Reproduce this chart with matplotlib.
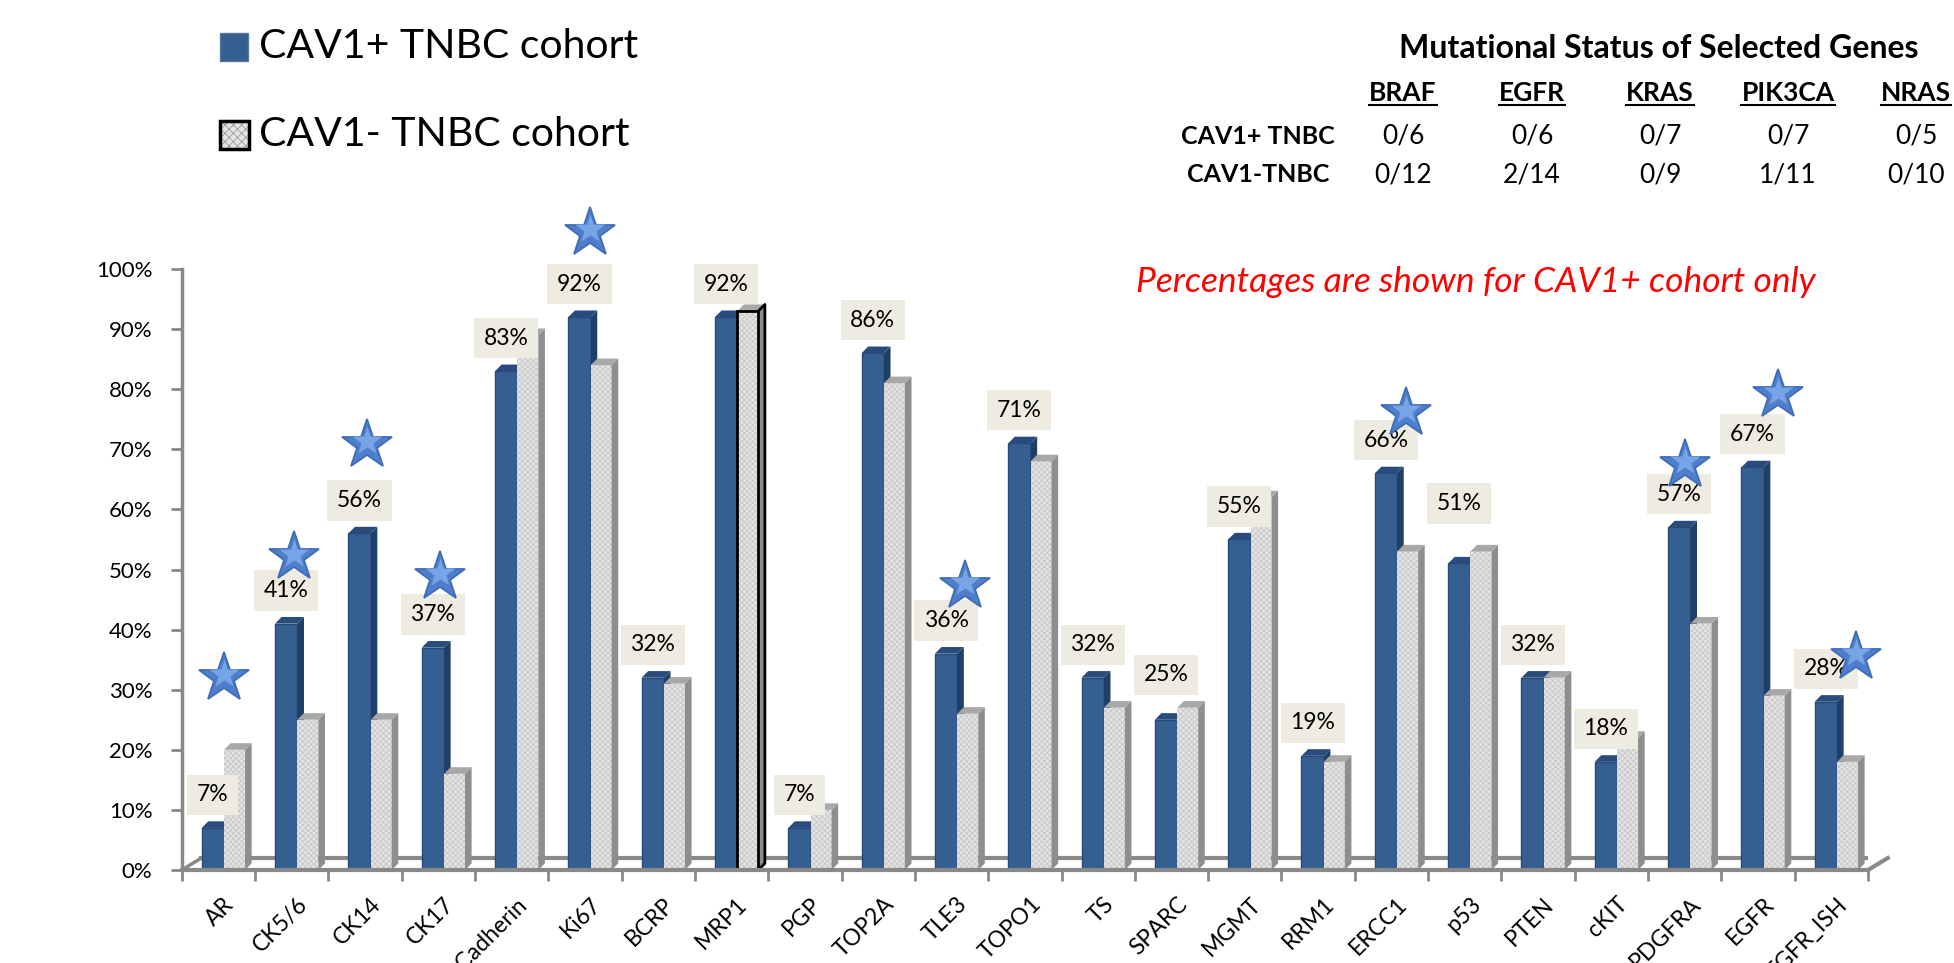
import matplotlib
matplotlib.use("Agg")
import matplotlib.pyplot as plt
from matplotlib.patches import Rectangle
from matplotlib.lines import Line2D
import numpy as np

plt.rcParams['font.family'] = ['Lato', 'DejaVu Sans']
plt.rcParams['hatch.linewidth'] = 0.6

# ---- data ----
markers = ['AR', 'CK5/6', 'CK14', 'CK17', 'E-Cadherin', 'Ki67', 'BCRP', 'MRP1', 'PGP',
           'TOP2A', 'TLE3', 'TOPO1', 'TS', 'SPARC', 'MGMT', 'RRM1', 'ERCC1', 'p53',
           'PTEN', 'cKIT', 'PDGFRA', 'EGFR', 'EGFR_ISH']
cav1_pos = [7, 41, 56, 37, 83, 92, 32, 92, 7, 86, 36, 71, 32, 25, 55, 19, 66, 51, 32, 18, 57, 67, 28]
cav1_neg = [20, 25, 25, 16, 89, 84, 31, 93, 10, 81, 26, 68, 27, 27, 62, 18, 53, 53, 32, 22, 41, 29, 18]
starred = ['AR', 'CK5/6', 'CK14', 'CK17', 'Ki67', 'TLE3', 'ERCC1', 'PDGFRA', 'EGFR', 'EGFR_ISH']

mut_genes = ['BRAF', 'EGFR', 'KRAS', 'PIK3CA', 'NRAS']
mut_rows = ['CAV1+ TNBC', 'CAV1-TNBC']
mut_pos = ['0/6', '0/6', '0/7', '0/7', '0/5']
mut_neg = ['0/12', '2/14', '0/9', '1/11', '0/10']

# ---- layout tweaks (where the stars / labels sit) ----
star_level = {'AR': 32, 'CK5/6': 52, 'CK14': 70.7, 'CK17': 48.8, 'Ki67': 106, 'TLE3': 47.3,
              'ERCC1': 76, 'PDGFRA': 67.4, 'EGFR': 79, 'EGFR_ISH': 35.5}
star_shift = {'AR': 0.08, 'CK5/6': 0.03, 'CK14': 0.03, 'CK17': 0.02, 'Ki67': 0.07, 'TLE3': 0.18,
              'ERCC1': 0.2, 'PDGFRA': 0.0, 'EGFR': 0.27, 'EGFR_ISH': 0.34}
label_lift = {'SPARC': 2.0, 'p53': 4.5}

W, H = 1954, 963
BLUE = '#365F91'
BLUE_SIDE = '#203F68'
BLUE_TOP = '#2A4C7C'
GRAY = '#E4E4E4'
GRAY_HATCH = '#C6C6C6'
GRAY_SIDE = '#8E8E8E'
GRAY_TOP = '#A8A8A8'
AXIS_GRAY = '#898989'


def fx(px):
    return px / W


def fy(py):
    return 1 - py / H


fig = plt.figure(figsize=(W / 100, H / 100), dpi=100)
ax = fig.add_axes([fx(181.7), fy(870), (1868 - 181.7) / W, (870 - 269) / H])
ax.set_xlim(-0.5, len(markers) - 0.5)
ax.set_ylim(0, 100)

x = np.arange(len(markers))
bw_blue, bw_gray = 0.305, 0.286
blue_left = x - 0.227
gray_left = blue_left + bw_blue
dx, dy = 0.09, 1.1


def faces(left, width, heights, side_col, top_col, z):
    for l, h in zip(left, heights):
        r = l + width
        ax.fill([r, r + dx, r + dx, r], [0, dy, h + dy, h], color=side_col, lw=0, zorder=z)
        ax.fill([l, l + dx, r + dx, r], [h, h + dy, h + dy, h], color=top_col, lw=0, zorder=z)


# floor (back edge behind bars)
n = len(markers)
ax.plot([-0.5 + 0.27, n - 0.5 + 0.27], [2, 2], color=AXIS_GRAY, lw=3, zorder=1)
ax.plot([n - 0.5, n - 0.5 + 0.27], [0, 2], color=AXIS_GRAY, lw=3, zorder=1, clip_on=False)
ax.plot([-0.5, -0.5 + 0.27], [0, 2], color=AXIS_GRAY, lw=2.5, zorder=1)

# CAV1+ bars
ax.bar(blue_left, cav1_pos, bw_blue, align='edge', color=BLUE, edgecolor='#28497A', lw=1, zorder=3)
faces(blue_left, bw_blue, cav1_pos, BLUE_SIDE, BLUE_TOP, 3)

# CAV1- bars
ax.bar(gray_left, cav1_neg, bw_gray, align='edge', color=GRAY, edgecolor=GRAY_HATCH,
       hatch='xxxxxx', lw=0, zorder=4)
faces(gray_left, bw_gray, cav1_neg, GRAY_SIDE, GRAY_TOP, 4)

# the selected MRP1 bar has a black outline
k = markers.index('MRP1')
ax.bar(gray_left[k], cav1_neg[k], bw_gray, align='edge', fill=False, edgecolor='black', lw=2, zorder=5)
r = gray_left[k] + bw_gray
ax.plot([r, r + dx, r + dx, r], [0, dy, cav1_neg[k] + dy, cav1_neg[k]], color='black', lw=2, zorder=5)

# front floor edge
ax.plot([-0.5, n - 0.5], [0, 0], color=AXIS_GRAY, lw=3, zorder=6, clip_on=False)

# value labels (CAV1+ only)
for i, v in enumerate(cav1_pos):
    ax.text(i - 0.075, v + 5.5 + label_lift.get(markers[i], 0), f"{v}%", ha='center', va='center',
            fontsize=16.5, zorder=7, clip_on=False,
            bbox=dict(boxstyle='square,pad=0.42', fc='#EEECE1', ec='none'))

# stars: darker outline star with a lighter core for a bit of gradient
for name in starred:
    i = markers.index(name)
    sx, sy = i + star_shift[name], star_level[name]
    ax.plot(sx, sy, marker='*', ms=38, mfc='#4F7FCC', mec='#3F6DB6', mew=1.3, zorder=8, clip_on=False)
    ax.plot(sx, sy + 0.6, marker='*', ms=22, mfc='#76A4E6', mec='none', zorder=8, clip_on=False)

# axes styling
for s in ['top', 'right', 'bottom']:
    ax.spines[s].set_visible(False)
ax.spines['left'].set_color(AXIS_GRAY)
ax.spines['left'].set_linewidth(2.5)
ax.set_yticks(range(0, 101, 10))
ax.set_yticklabels([f"{t}%" for t in range(0, 101, 10)])
ax.tick_params(axis='y', length=8, width=2, color=AXIS_GRAY, pad=13, labelsize=16)
ax.set_xticks(np.arange(-0.5, n, 1))
ax.tick_params(axis='x', length=8, width=2, color=AXIS_GRAY, labelbottom=False)

for i, name in enumerate(markers):
    ax.text(i + 0.07, -3.9, name, rotation=45, ha='right', va='top', rotation_mode='anchor',
            fontsize=16.5, clip_on=False)

# legend
fig.add_artist(Rectangle((fx(220), fy(61)), 28 / W, 28 / H, transform=fig.transFigure,
                         facecolor=BLUE, edgecolor='#5A78A0', lw=1))
fig.text(fx(259), fy(47), 'CAV1+ TNBC cohort', fontsize=29.5, va='center', ha='left')
fig.add_artist(Rectangle((fx(220), fy(149)), 29 / W, 28 / H, transform=fig.transFigure,
                         facecolor=GRAY, edgecolor='#9A9A9A', hatch='xxxx', lw=0))
fig.add_artist(Rectangle((fx(220), fy(149)), 29 / W, 28 / H, transform=fig.transFigure,
                         fill=False, edgecolor='black', lw=2.5))
fig.text(fx(259), fy(135), 'CAV1- TNBC cohort', fontsize=29.5, va='center', ha='left')

# mutational status table
fig.text(fx(1659), fy(48), 'Mutational Status of Selected Genes', fontsize=23, fontweight='bold',
         ha='center', va='center')
gene_x = [1403, 1532, 1660, 1788, 1916]
heads = []
for gx, g in zip(gene_x, mut_genes):
    heads.append(fig.text(fx(gx), fy(93), g, fontsize=19, fontweight='bold', ha='center', va='center'))
for ry, lab, vals in zip([136, 175], mut_rows, [mut_pos, mut_neg]):
    fig.text(fx(1258), fy(ry), lab, fontsize=18, fontweight='bold', ha='center', va='center')
    for gx, v in zip(gene_x, vals):
        fig.text(fx(gx), fy(ry), v, fontsize=19, ha='center', va='center')

fig.text(fx(1136), fy(282), 'Percentages are shown for CAV1+ cohort only', fontsize=25.5,
         style='italic', color='#FF0000', ha='left', va='center')

fig.canvas.draw()
renderer = fig.canvas.get_renderer()
for t in heads:
    bb = t.get_window_extent(renderer)
    fig.add_artist(Line2D([bb.x0 / W, bb.x1 / W], [fy(105), fy(105)], transform=fig.transFigure,
                          color='black', lw=1.5))

fig.savefig('out.png', dpi=100)
